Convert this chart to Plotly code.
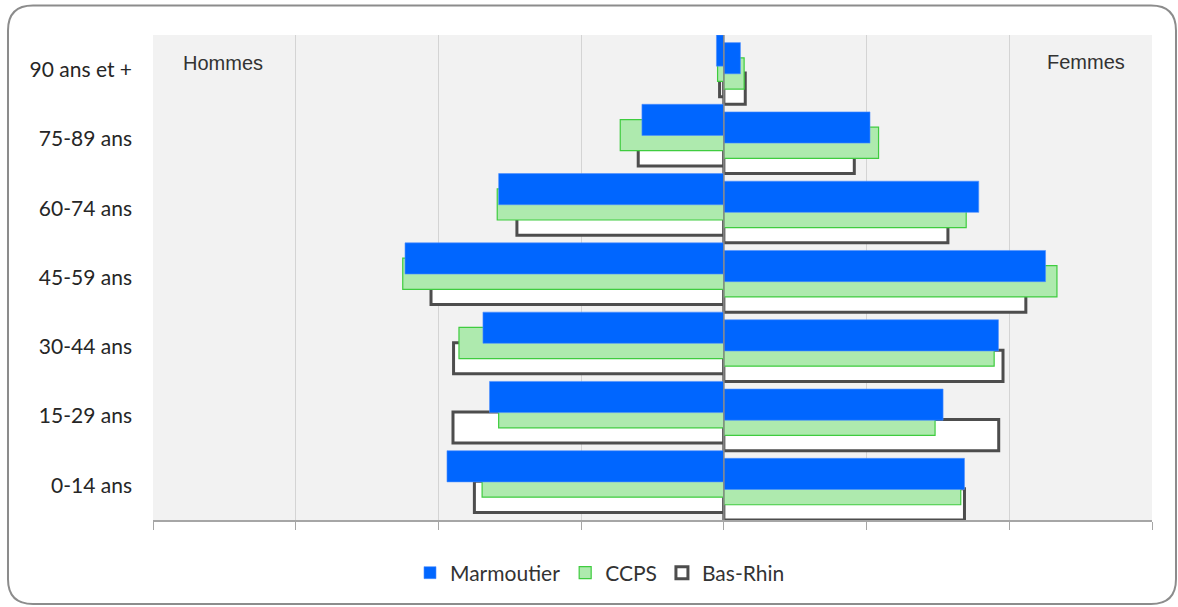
import plotly.graph_objects as go

# Age groups, bottom to top
age_groups = ["0-14 ans", "15-29 ans", "30-44 ans", "45-59 ans",
              "60-74 ans", "75-89 ans", "90 ans et +"]

# Share of the total population (%), men and women
marmoutier_hommes = [9.70, 8.21, 8.44, 11.17, 7.89, 2.87, 0.26]
marmoutier_femmes = [8.43, 7.68, 9.62, 11.27, 8.93, 5.12, 0.58]
ccps_hommes = [8.47, 7.89, 9.28, 11.25, 7.94, 3.63, 0.22]
ccps_femmes = [8.30, 7.40, 9.47, 11.67, 8.49, 5.42, 0.71]
basrhin_hommes = [8.74, 9.49, 9.47, 10.26, 7.25, 3.00, 0.15]
basrhin_femmes = [8.43, 9.63, 9.78, 10.58, 7.85, 4.57, 0.75]

# Figure geometry (pixels)
W, H = 1178, 607
L, R, T, B = 153, 1152, 35, 520


def px_x(p):
    return (p - L) / (R - L)


def px_y(p):
    return (B - p) / (B - T)


BAR_W = 0.45
STEP = 0.11
TOP = 0.5 - BAR_W  # offset of the uppermost bar in each group

series = [
    # name, men, women, fill, line colour, line width, legend rank, slot
    ("Bas-Rhin", basrhin_hommes, basrhin_femmes, "#ffffff", "#4d4d4d", 3, 3, 4),
    ("CCPS", ccps_hommes, ccps_femmes, "#aeeaae", "#3fcc3f", 1.2, 2, 2),
    ("Marmoutier", marmoutier_hommes, marmoutier_femmes, "#0066ff", "#4d8fff", 0.6, 1, 0),
]

fig = go.Figure()
for name, men, women, fill, lcol, lw, rank, slot in series:
    fig.add_trace(go.Bar(
        y=age_groups, x=[-v for v in men], orientation="h",
        name=name, legendgroup=name, legendrank=rank, showlegend=True,
        width=BAR_W, offset=TOP - slot * STEP,
        marker=dict(color=fill, line=dict(color=lcol, width=lw)),
    ))
    fig.add_trace(go.Bar(
        y=age_groups, x=women, orientation="h",
        name=name, legendgroup=name, showlegend=False,
        width=BAR_W, offset=TOP - (slot + 1) * STEP,
        marker=dict(color=fill, line=dict(color=lcol, width=lw)),
    ))

# Rounded outer frame
x0, y0, x1, y1, r = 8, 5.5, 1176, 604, 25
pts = [
    ("M", (x0 + r, y0)), ("L", (x1 - r, y0)), ("Q", (x1, y0), (x1, y0 + r)),
    ("L", (x1, y1 - r)), ("Q", (x1, y1), (x1 - r, y1)),
    ("L", (x0 + r, y1)), ("Q", (x0, y1), (x0, y1 - r)),
    ("L", (x0, y0 + r)), ("Q", (x0, y0), (x0 + r, y0)),
]
path = ""
for cmd, *coords in pts:
    path += cmd + " ".join(f"{px_x(a):.5f},{px_y(b):.5f}" for a, b in coords) + " "
path += "Z"

fig.add_shape(type="path", path=path, xref="paper", yref="paper",
              line=dict(color="#8c8c8c", width=2), layer="below")

# Zero line drawn over the bars
fig.add_shape(type="line", x0=0, x1=0, y0=0, y1=1, xref="x", yref="paper",
              line=dict(color="#8a8a8a", width=1.5), layer="above")

for text, xp, yp in [("Hommes", 223, 63), ("Femmes", 1086, 62)]:
    fig.add_annotation(text=text, x=px_x(xp), y=px_y(yp), xref="paper", yref="paper",
                       showarrow=False, xanchor="center", yanchor="middle",
                       font=dict(family="Liberation Sans, Arial", size=20, color="#333333"))

fig.update_layout(
    width=W, height=H,
    margin=dict(l=L, r=W - R, t=T, b=H - B, pad=0),
    barmode="overlay",
    paper_bgcolor="#ffffff",
    plot_bgcolor="#f2f2f2",
    showlegend=True,
    legend=dict(orientation="h", x=px_x(600), y=px_y(573), xanchor="center", yanchor="middle",
                font=dict(family="Lato", size=21, color="#333333"),
                bgcolor="rgba(0,0,0,0)", traceorder="normal"),
    xaxis=dict(range=[-20, 15], dtick=5, tick0=0, showgrid=True, gridcolor="#d4d4d4",
               gridwidth=1, zeroline=False, showticklabels=False,
               showline=True, linecolor="#a6a6a6", linewidth=1.5,
               ticks="outside", ticklen=8, tickcolor="#a6a6a6", tickwidth=1.2),
    yaxis=dict(type="category", categoryorder="array", categoryarray=age_groups,
               range=[-0.5, 6.5], showgrid=False, zeroline=False, ticks="",
               ticklabelstandoff=20,
               tickfont=dict(family="Lato", size=21, color="#262626")),
)

fig.write_html("out.html")
